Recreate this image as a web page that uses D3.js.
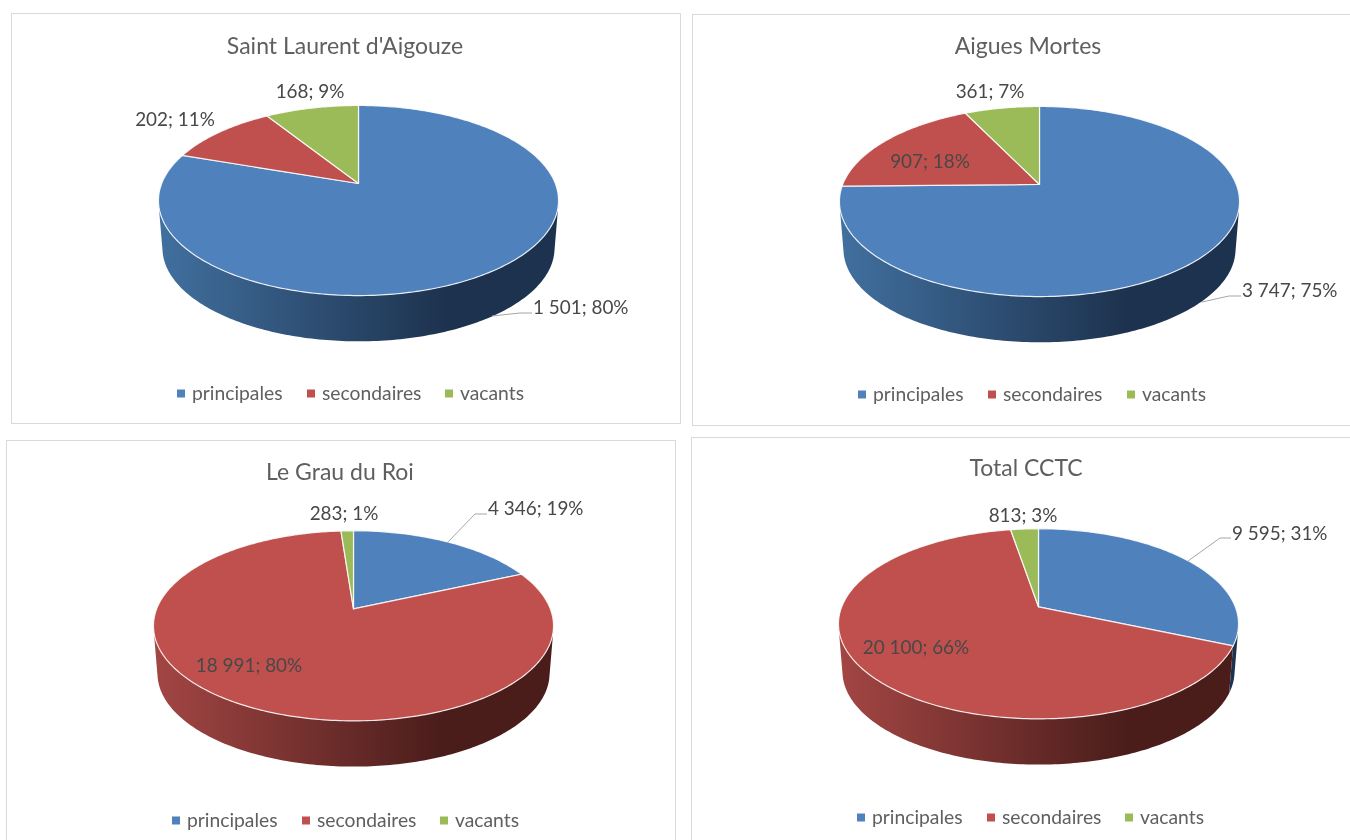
<!DOCTYPE html>
<html><head><meta charset="utf-8">
<script src="https://cdn.jsdelivr.net/npm/d3@7/dist/d3.min.js"></script>
<style>html,body{margin:0;padding:0;background:#fff;overflow:hidden}svg{display:block;filter:blur(0.45px)}text{font-family:Lato,"Open Sans",sans-serif}</style>
</head><body><svg id="c" width="1350" height="840"></svg>
<script>
// ---- data ----
const categories = ["principales", "secondaires", "vacants"];
const titles = ["Saint Laurent d'Aigouze", "Aigues Mortes", "Le Grau du Roi", "Total CCTC"];
const valuesStLaurent = [1501, 202, 168];
const valuesAigues = [3747, 907, 361];
const valuesGrau = [4346, 18991, 283];
const valuesTotal = [9595, 20100, 813];
const pctStLaurent = [80, 11, 9];
const pctAigues = [75, 18, 7];
const pctGrau = [19, 80, 1];
const pctTotal = [31, 66, 3];

// ---- layout ----
const colors = ["#4f81bd", "#c0504d", "#9bbb59"];
const wallLight = ["#41709f", "#a34644", "#7f9a48"];
const wallDark = ["#1d324e", "#4a1d1b", "#4d5e2b"];
const panels = [
  {values: valuesStLaurent, pct: pctStLaurent, frame: [11, 13, 669, 410], cx: 358.5, cy: 183.5, title: [345, 45],
   legendY: 392, legendX: [177, 307, 445],
   labels: [{x: 533, y: 306, a: "start", lead: [[492, 316], [520, 313], [532, 313]]}, {x: 175, y: 118, a: "middle"}, {x: 310, y: 90, a: "middle"}]},
  {values: valuesAigues, pct: pctAigues, frame: [692, 14, 670, 411], cx: 1039.5, cy: 184.5, title: [1028, 45],
   legendY: 393, legendX: [858, 988, 1127],
   labels: [{x: 1242, y: 289, a: "start", lead: [[1202, 302], [1229, 296], [1241, 296]]}, {x: 930, y: 160, a: "middle"}, {x: 990, y: 90, a: "middle"}]},
  {values: valuesGrau, pct: pctGrau, frame: [6, 440, 669, 420], cx: 353.5, cy: 608.8, title: [340, 471],
   legendY: 819, legendX: [172, 302, 440],
   labels: [{x: 488, y: 507, a: "start", lead: [[447, 543], [475, 514], [487, 514]]}, {x: 249, y: 664, a: "middle"}, {x: 344, y: 512, a: "middle"}]},
  {values: valuesTotal, pct: pctTotal, frame: [691, 437, 680, 423], cx: 1038.5, cy: 606.8, title: [1026, 467],
   legendY: 816, legendX: [857, 987, 1125],
   labels: [{x: 1232, y: 532, a: "start", lead: [[1188, 561], [1220, 538], [1231, 538]]}, {x: 916, y: 646, a: "middle"}, {x: 1023, y: 514, a: "middle"}]}
];
const k = 0.179, radA = 92, radB = 196.8, bottomScale = 0.98, bottomDrop = 48;
const svg = d3.select("#c");
const defs = svg.append("defs");
const thousand = d3.formatLocale({decimal: ",", thousands: " ", grouping: [3], currency: ["", ""]}).format(",d");
const pie = d3.pie().sort(null).startAngle(0).endAngle(2 * Math.PI);
const lineGen = d3.line();

// perspective projection of a unit disk, angle clockwise from the top
function project(p, t, level) {
  const u = Math.sin(t), v = -Math.cos(t), w = 1 - k * v;
  const s = level ? bottomScale : 1, d = level ? bottomDrop : 0;
  return [p.cx + radB * s * u / w, p.cy + radA * s * v / w + d];
}
function samples(a0, a1) { return d3.range(0, 1.0001, 1 / Math.max(2, Math.ceil((a1 - a0) * 60))).map(f => a0 + (a1 - a0) * f); }

panels.forEach((p, pi) => {
  const g = svg.append("g");
  const [fx, fy, fw, fh] = p.frame;
  g.append("rect").attr("x", fx + .5).attr("y", fy + .5).attr("width", fw).attr("height", fh)
    .attr("fill", "#fff").attr("stroke", "#d9d9d9");
  g.append("text").attr("x", p.title[0]).attr("y", p.title[1]).attr("text-anchor", "middle")
    .attr("dominant-baseline", "central").attr("font-size", 23).attr("fill", "#5f5f5f").text(titles[pi]);

  const arcs = pie(p.values);
  // side walls: only the quads that face the viewer
  arcs.forEach((a, i) => {
    const id = `w${pi}${i}`;
    const gr = defs.append("linearGradient").attr("id", id).attr("gradientUnits", "userSpaceOnUse")
      .attr("x1", p.cx - 200).attr("x2", p.cx + 200).attr("y1", 0).attr("y2", 0);
    gr.append("stop").attr("offset", 0).attr("stop-color", wallLight[i]);
    gr.append("stop").attr("offset", .72).attr("stop-color", wallDark[i]);
    gr.append("stop").attr("offset", 1).attr("stop-color", wallDark[i]);
    const ts = samples(a.startAngle, a.endAngle);
    let dPath = "";
    for (let j = 0; j < ts.length - 1; j++) {
      const q = [project(p, ts[j], 0), project(p, ts[j + 1], 0), project(p, ts[j + 1], 1), project(p, ts[j], 1)];
      if (d3.polygonArea(q) > 0) dPath += lineGen(q) + "Z";
    }
    if (dPath) g.append("path").attr("d", dPath).attr("fill", `url(#${id})`).attr("fill-rule", "nonzero");
  });
  // top slices
  arcs.forEach((a, i) => {
    const pts = [[p.cx, p.cy]].concat(samples(a.startAngle, a.endAngle).map(t => project(p, t, 0)));
    g.append("path").attr("d", lineGen(pts) + "Z").attr("fill", colors[i])
      .attr("stroke", "#fff").attr("stroke-opacity", .85).attr("stroke-width", 1.2).attr("stroke-linejoin", "round");
  });
  // labels
  p.labels.forEach((l, i) => {
    if (l.lead) g.append("path").attr("d", lineGen(l.lead)).attr("fill", "none").attr("stroke", "#a6a6a6").attr("stroke-width", 1);
    g.append("text").attr("x", l.x).attr("y", l.y).attr("text-anchor", l.a).attr("dominant-baseline", "central")
      .attr("font-size", 18.9).attr("fill", "#484848").text(`${thousand(p.values[i])}; ${p.pct[i]}%`);
  });
  // legend
  categories.forEach((c, i) => {
    g.append("rect").attr("x", p.legendX[i]).attr("y", p.legendY - 2.5).attr("width", 8).attr("height", 8).attr("fill", colors[i]);
    g.append("text").attr("x", p.legendX[i] + 15).attr("y", p.legendY).attr("dominant-baseline", "central")
      .attr("font-size", 19.3).attr("fill", "#5f5f5f").text(c);
  });
});
</script></body></html>
